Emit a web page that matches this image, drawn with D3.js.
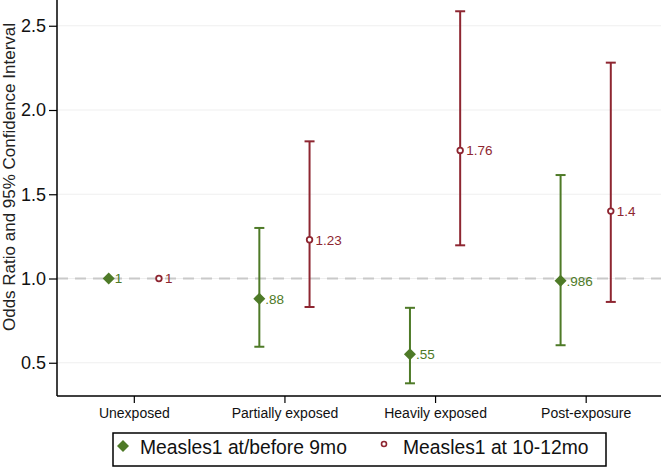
<!DOCTYPE html>
<html><head><meta charset="utf-8">
<script src="https://cdn.jsdelivr.net/npm/d3@7"></script>
<style>
html,body{margin:0;padding:0;background:#fff;}
text{font-family:"Liberation Sans",Arial,sans-serif;}
</style></head>
<body>
<svg id="chart" width="661" height="467"></svg>
<script>
const categories = ["Unexposed","Partially exposed","Heavily exposed","Post-exposure"];
const seriesNames = ["Measles1 at/before 9mo","Measles1 at 10-12mo"];
const earlyOR = [1, 0.88, 0.55, 0.986];
const earlyLo = [null, 0.595, 0.378, 0.604];
const earlyHi = [null, 1.30, 0.826, 1.614];
const earlyLabels = ["1", ".88", ".55", ".986"];
const lateOR = [1, 1.23, 1.76, 1.4];
const lateLo = [null, 0.831, 1.197, 0.861];
const lateHi = [null, 1.814, 2.586, 2.281];
const lateLabels = ["1", "1.23", "1.76", "1.4"];
const yTicks = [0.5, 1.0, 1.5, 2.0, 2.5];
const refValue = 1;

(function(){
const green = "#4e7a27", red = "#8e2631";
const svg = d3.select("#chart");
const mLeft = 57, mBottom = 396, mTop = 0, mRight = 661;

const x = d3.scaleLinear().domain([0.49, 4.5]).range([mLeft, mRight]);
const y = d3.scaleLinear().domain([1 - (mBottom - 278.5)/168.5, 1 + 278.5/168.5]).range([mBottom, mTop]);
const off = 1/6;

// gridlines
svg.append("g").selectAll("line").data(yTicks).join("line")
  .attr("x1", mLeft).attr("x2", mRight)
  .attr("y1", d => y(d)).attr("y2", d => y(d))
  .attr("stroke", "#efefef").attr("stroke-width", 1.2);

// reference line
svg.append("line").attr("x1", mLeft).attr("x2", mRight)
  .attr("y1", y(refValue)).attr("y2", y(refValue))
  .attr("stroke", "#c9c9c9").attr("stroke-width", 2).attr("stroke-dasharray", "11,7");

// axes
const yAxis = d3.axisLeft(y).tickValues(yTicks).tickFormat(d3.format(".1f")).tickSize(8).tickPadding(3);
const gy = svg.append("g").attr("transform", `translate(${mLeft},0)`).call(yAxis);
gy.select(".domain").attr("d", `M0,${mTop}V${mBottom}`).attr("stroke", "#000").attr("stroke-width", 1.5);
gy.selectAll(".tick line").attr("stroke", "#000").attr("stroke-width", 1.2);
gy.selectAll(".tick text").attr("font-size", 18).attr("fill", "#111").style("font-family", "Liberation Sans, Arial, sans-serif");

const xAxis = d3.axisBottom(x).tickValues([1,2,3,4]).tickFormat((d,i) => categories[i]).tickSize(7).tickPadding(5);
const gx = svg.append("g").attr("transform", `translate(0,${mBottom})`).call(xAxis);
gx.select(".domain").attr("d", `M${mLeft},0H${mRight}`).attr("stroke", "#000").attr("stroke-width", 1.5);
gx.selectAll(".tick line").attr("stroke", "#000").attr("stroke-width", 1.2);
gx.selectAll(".tick text").attr("font-size", 14).attr("fill", "#111").style("font-family", "Liberation Sans, Arial, sans-serif");

// y title
svg.append("text").attr("transform", `translate(15,177) rotate(-90)`)
  .attr("text-anchor", "middle").attr("font-size", 17).attr("fill", "#222")
  .text("Odds Ratio and 95% Confidence Interval");

function drawSeries(or, lo, hi, labels, dx, color, shape) {
  const g = svg.append("g");
  const idx = d3.range(or.length);
  const bars = idx.filter(i => lo[i] != null);
  g.selectAll("line.v").data(bars).join("line")
    .attr("x1", i => x(i+1+dx)).attr("x2", i => x(i+1+dx))
    .attr("y1", i => y(lo[i])).attr("y2", i => y(hi[i]))
    .attr("stroke", color).attr("stroke-width", 2);
  [lo, hi].forEach((arr) => {
    g.append("g").selectAll("line").data(bars).join("line")
      .attr("x1", i => x(i+1+dx) - 5).attr("x2", i => x(i+1+dx) + 5)
      .attr("y1", i => y(arr[i])).attr("y2", i => y(arr[i]))
      .attr("stroke", color).attr("stroke-width", 2);
  });
  if (shape === "diamond") {
    g.append("g").selectAll("path").data(idx).join("path")
      .attr("d", d3.symbol(d3.symbolSquare, 72)())
      .attr("transform", i => `translate(${x(i+1+dx)},${y(or[i])}) rotate(45)`)
      .attr("fill", color);
  } else {
    g.append("g").selectAll("circle").data(idx).join("circle")
      .attr("cx", i => x(i+1+dx)).attr("cy", i => y(or[i])).attr("r", 2.8)
      .attr("fill", "#fff").attr("stroke", color).attr("stroke-width", 1.8);
  }
  g.append("g").selectAll("text").data(idx).join("text")
    .attr("x", i => x(i+1+dx) + 6).attr("y", i => y(or[i]))
    .attr("dy", "0.36em").attr("font-size", 13.5).attr("fill", color)
    .text(i => labels[i]);
}
drawSeries(earlyOR, earlyLo, earlyHi, earlyLabels, -off, green, "diamond");
drawSeries(lateOR, lateLo, lateHi, lateLabels, off, red, "circle");

// legend
const lg = svg.append("g");
lg.append("rect").attr("x", 113).attr("y", 433).attr("width", 493).attr("height", 33)
  .attr("fill", "#fff").attr("stroke", "#000").attr("stroke-width", 1.5);
lg.append("path").attr("d", d3.symbol(d3.symbolSquare, 72)())
  .attr("transform", "translate(123,446) rotate(45)").attr("fill", green);
lg.append("text").attr("x", 140).attr("y", 453.5).attr("font-size", 19.3).attr("fill", "#111").text(seriesNames[0]);
lg.append("circle").attr("cx", 384).attr("cy", 444).attr("r", 2.5).attr("fill", "#fff").attr("stroke", red).attr("stroke-width", 1.6);
lg.append("text").attr("x", 403).attr("y", 453.5).attr("font-size", 19.3).attr("fill", "#111").text(seriesNames[1]);
})();
</script>
</body></html>
